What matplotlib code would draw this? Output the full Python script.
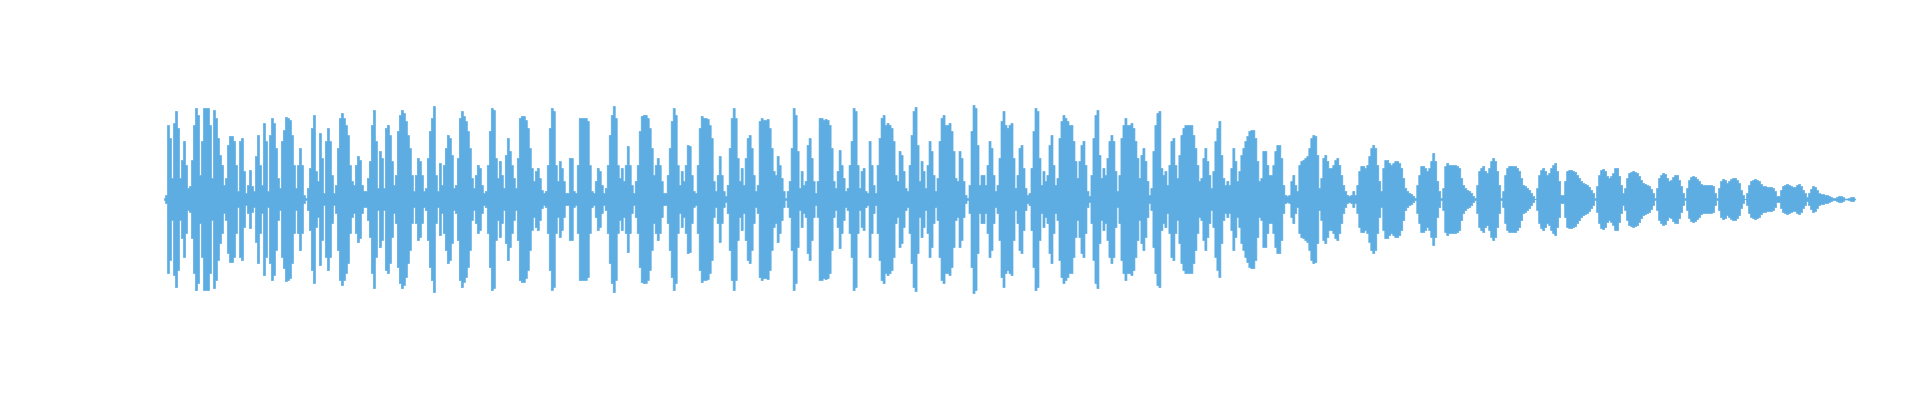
import numpy as np
import matplotlib
matplotlib.use("Agg")
import matplotlib.pyplot as plt

# Waveform amplitude envelope (pixels of half-height), read left to right, ~2 px per sample
seg1 = [1, 4, 74, 61, 21, 76, 88, 71, 21, 39, 58, 34, 11, 13, 39, 74, 91, 84, 24, 58, 91, 91, 91, 74, 21,
        89, 81, 61, 44, 34, 14, 21, 54, 63, 63, 58, 34, 8, 58, 61, 28, 6, 14, 29, 13, 8, 43, 64, 34, 14,
        76, 58, 8, 64, 81, 76, 51, 21, 11, 58, 69, 82, 81, 79, 64, 34, 11, 34, 51, 34, 4, 1, 11, 31, 71, 84,
        28, 18, 66, 41, 6, 58, 71, 58, 24, 6, 14, 51, 81, 86, 81, 74, 64, 34, 18, 14, 34, 43, 39, 14, 8, 8, 21, 38]
seg2 = [74, 89, 58, 11, 48, 41, 11, 71, 74, 64, 38, 14, 24, 68, 84, 89, 86, 78, 64, 51, 24, 8, 24, 41, 38, 24, 8, 11, 41, 68,
        81, 93, 24, 8, 36, 14, 34, 51, 64, 61, 44, 11, 14, 41, 81, 88, 83, 78, 68, 51, 21, 11, 24, 34, 31, 14, 6, 8, 34, 68,
        91, 89, 41, 21, 38, 24, 11, 44, 61, 48, 34, 21, 11, 41, 81, 83, 83, 79, 71, 51, 31, 18, 28, 31, 21, 9, 6, 8, 34, 71,
        91, 88, 34, 18, 38, 31, 18, 6, 6, 41, 41, 8, 6, 34, 81, 81, 81]
seg3 = [81, 78, 34, 8, 6, 18, 31, 28, 14, 6, 11, 34, 64, 84, 93, 81, 34, 21, 31, 18, 34, 53, 34, 14, 6, 18, 34, 68, 83, 84,
        84, 81, 71, 51, 24, 34, 41, 34, 18, 6, 6, 24, 51, 78, 91, 84, 34, 14, 28, 18, 34, 54, 53, 24, 8, 6, 34, 71, 83, 81,
        81, 80, 74, 61, 18, 8, 24, 43, 24, 8, 3, 14, 51, 81, 91, 81, 41, 18, 31, 14, 41, 61, 64, 51, 24, 8, 14, 78, 81, 79,
        79, 80, 71, 51, 28, 24, 43, 34, 21, 8, 1, 8, 18, 51, 91, 84]
seg4 = [48, 11, 28, 14, 18, 54, 61, 41, 18, 6, 18, 81, 81, 79, 80, 79, 74, 51, 18, 11, 28, 49, 34, 21, 8, 11, 34, 58, 91, 88,
        34, 11, 28, 31, 8, 6, 58, 34, 14, 6, 34, 61, 81, 84, 74, 76, 74, 71, 58, 24, 18, 48, 44, 28, 11, 8, 34, 64, 88, 92,
        54, 18, 38, 28, 11, 34, 58, 48, 24, 8, 21, 58, 81, 84, 74, 74, 76, 68, 48, 21, 18, 48, 41, 18, 4, 1, 14, 68, 94, 91,
        54, 14, 24, 24, 14, 34, 58, 51, 24, 8, 14, 41, 78, 88, 74, 71]
seg5 = [74, 76, 41, 11, 24, 51, 54, 31, 11, 4, 6, 31, 68, 91, 88, 41, 14, 28, 18, 24, 54, 64, 34, 14, 21, 61, 78, 84, 81, 78,
        74, 74, 58, 38, 21, 38, 54, 58, 34, 8, 3, 24, 61, 84, 89, 44, 21, 31, 24, 41, 58, 64, 58, 28, 8, 24, 61, 74, 81, 74,
        74, 76, 71, 58, 41, 21, 44, 51, 38, 18, 4, 11, 48, 74, 86, 88, 31, 24, 28, 14, 34, 58, 61, 34, 21, 44, 64, 71, 74, 74,
        74, 74, 64, 51, 34, 18, 21, 41, 51, 38, 24, 11, 28, 58, 71, 78]
seg6 = [44, 21, 14, 18, 14, 31, 51, 38, 18, 28, 44, 51, 58, 63, 68, 69, 69, 61, 38, 18, 21, 48, 48, 34, 24, 24, 34, 48, 54, 54,
        41, 14, 4, 3, 4, 18, 24, 14, 8, 34, 38, 39, 41, 43, 51, 61, 64, 63, 44, 11, 21, 41, 44, 38, 31, 31, 34, 39, 41, 34,
        24, 14, 8, 4, 3, 4, 8, 4, 14, 28, 33, 33, 31, 34, 43, 51, 54, 51, 34, 18, 8, 31, 39, 39, 36, 34, 36, 38, 38, 36,
        31, 21, 11, 8, 6, 5, 3, 1, 14, 24, 33, 33, 31, 28, 31, 38]
seg7 = [46, 38, 18, 8, 1, 11, 33, 36, 34, 34, 34, 34, 33, 31, 21, 14, 11, 9, 8, 6, 3, 1, 14, 28, 31, 33, 28, 26, 31, 38,
        41, 38, 28, 14, 1, 8, 24, 31, 33, 33, 33, 33, 31, 28, 21, 14, 13, 11, 9, 6, 3, 0, 11, 24, 29, 31, 28, 24, 26, 31,
        34, 36, 28, 18, 4, 4, 18, 28, 29, 29, 28, 27, 24, 21, 18, 16, 15, 14, 12, 9, 6, 1, 13, 24, 29, 30, 28, 23, 21, 23,
        26, 31, 31, 23, 14, 6, 11, 21, 26, 27, 28, 27, 26, 23, 19, 16]
seg8 = [15, 14, 13, 10, 6, 1, 11, 21, 24, 26, 25, 21, 18, 19, 22, 24, 24, 19, 13, 6, 1, 11, 19, 22, 23, 22, 20, 18, 15, 14,
        14, 14, 14, 14, 13, 6, 1, 11, 18, 20, 19, 16, 18, 20, 21, 21, 19, 16, 9, 4, 0, 6, 14, 18, 19, 20, 19, 18, 15, 13,
        13, 12, 12, 12, 11, 8, 3, 3, 9, 13, 14, 15, 14, 13, 12, 12, 14, 15, 13, 9, 6, 2, 6, 10, 13, 12, 9, 6, 5, 5,
        4, 4, 3, 2, 1, 1, 2, 3, 3, 2, 0.5, 0.5, 1, 2, 2, 0.5]

amplitude = np.array(seg1 + seg2 + seg3 + seg4 + seg5 + seg6 + seg7 + seg8, dtype=float)
n = len(amplitude)
x = np.arange(n)

fig = plt.figure(figsize=(19.2, 4.0), dpi=100)
ax = fig.add_axes([163 / 1920, 0, 1693 / 1920, 1])
ax.fill_between(x, -amplitude, amplitude, step='mid', facecolor='#5DADE2',
                edgecolor='#5DADE2', linewidth=0.5)
ax.set_xlim(-0.5, n - 0.5)
ax.set_ylim(-201, 199)
ax.axis('off')
fig.savefig('out.png', dpi=100, facecolor='white')
